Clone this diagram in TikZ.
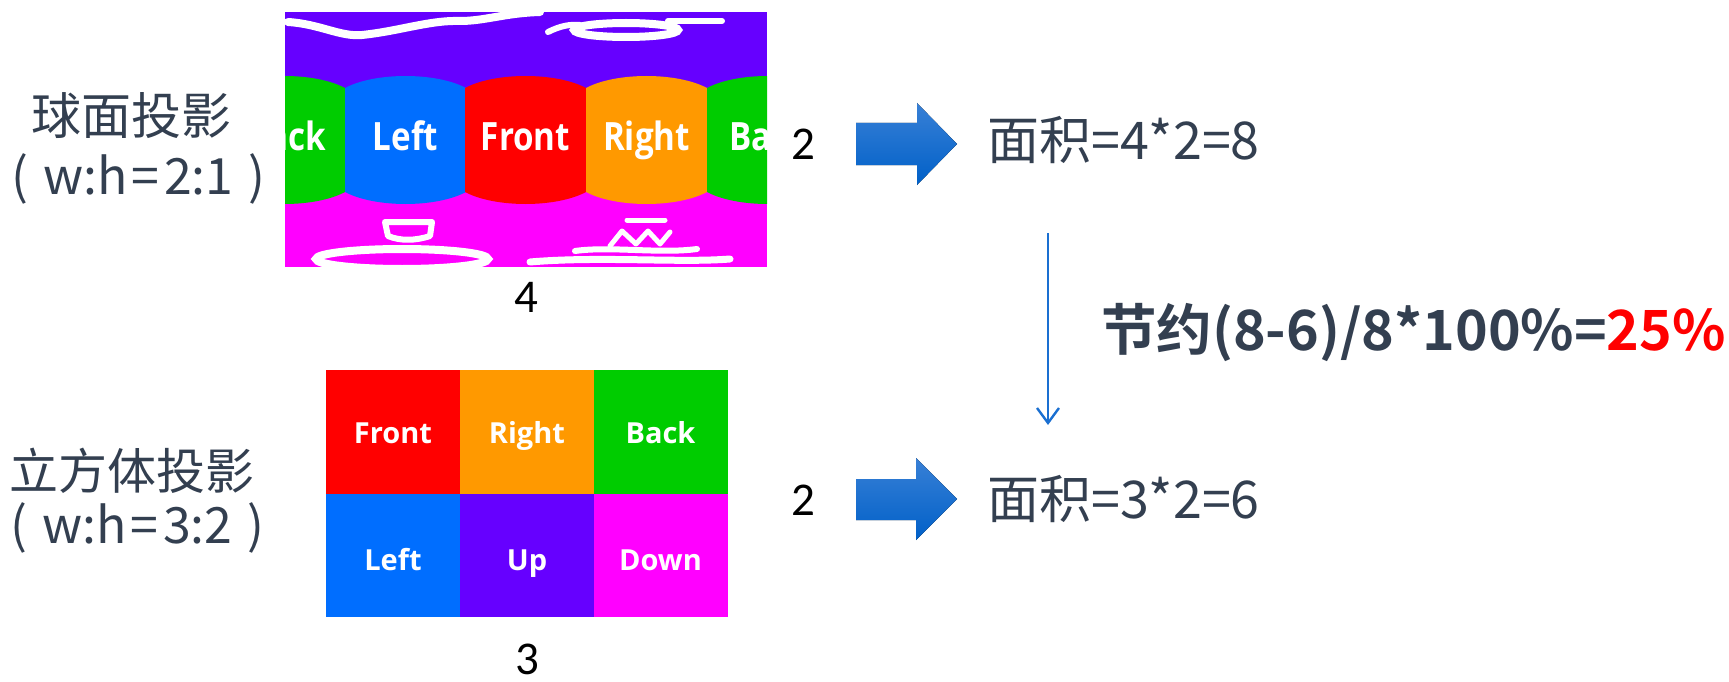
\documentclass[tikz,border=0pt]{standalone}
\usepackage{fontspec}
\setmainfont{Noto Sans CJK SC}[BoldFont=Noto Sans CJK SC Bold]
\newfontfamily\numfont{Carlito}
\newfontfamily\facefont{Open Sans}
\usetikzlibrary{arrows.meta}

\definecolor{txt}{RGB}{51,63,80}
\definecolor{fgreen}{RGB}{0,204,0}
\definecolor{fblue}{RGB}{0,110,255}
\definecolor{fred}{RGB}{255,0,0}
\definecolor{forange}{RGB}{255,153,0}
\definecolor{fpurple}{RGB}{102,0,255}
\definecolor{fmagenta}{RGB}{255,0,255}
\definecolor{arrtop}{RGB}{56,128,214}
\definecolor{arrbot}{RGB}{0,96,200}
\definecolor{thinblue}{RGB}{26,111,209}

\tikzset{
  lbl/.style={text=txt, inner sep=0pt, font=\fontsize{50}{60}\selectfont},
  num/.style={inner sep=0pt, font=\numfont\fontsize{47}{56}\selectfont},
  cell/.style={minimum width=134pt, minimum height=123.5pt, inner sep=0pt},
  celltxt/.style={text=white, inner sep=0pt, text height=20.7pt, text depth=0pt,
    font=\facefont\bfseries\fontsize{29}{34}\selectfont},
  facetxt/.style={text=white, inner sep=0pt, xscale=0.85, text height=27.8pt,
    text depth=0pt, font=\facefont\bfseries\fontsize{39}{46}\selectfont},
  bigarrow/.style={top color=arrtop, bottom color=arrbot},
  warp/.style={white, line cap=round, line join=round},
}

\begin{document}
\begin{tikzpicture}[x=1pt, y=-1pt]

    \useasboundingbox (0,0) rectangle (1729,682);

    % Spherical projection (equirectangular strip)
    \begin{scope}
    \clip (285,12) rectangle (767,267);
    \fill[fpurple] (285,12) rectangle (767,140);
    \fill[fmagenta] (285,140) rectangle (767,267);
    \foreach \x/\col in {224/fgreen, 345/fblue, 465/fred, 586/forange, 707/fgreen}
      \fill[\col] (\x,88) .. controls (\x+30,72) and (\x+91,72) .. (\x+121,88)
        -- (\x+121,192) .. controls (\x+91,208) and (\x+30,208) .. (\x,192) -- cycle;
    \node[facetxt, anchor=east] (sback1) at (326,137) {ack};
    \foreach \x/\name in {405.5/Left, 525.5/Front, 646.5/Right}
      \node[facetxt] (s\name) at (\x,137) {\name};
    \node[facetxt, anchor=west] (sback2) at (729,137) {Ba};
    % warped Up / Down lettering
    \draw[warp, line width=8pt] (288,22) .. controls (320,24) and (340,37) .. (362,35)
      .. controls (400,31) and (430,20) .. (460,21) .. controls (485,21) and (505,13) .. (540,12);
    \draw[white, line width=8pt] (626,30) ellipse (52pt and 7pt);
    \draw[warp, line width=6pt] (548,32) .. controls (560,26) and (570,24) .. (580,25);
    \draw[warp, line width=6pt] (668,21) -- (722,21);
    \draw[warp, line width=6pt] (385,222) -- (432,222) -- (430,236)
      .. controls (415,241) and (400,241) .. (388,236) -- cycle;
    \draw[white, line width=8pt] (402,259) ellipse (86pt and 10pt);
    \draw[warp, line width=5pt] (627,220) -- (665,220);
    \draw[warp, line width=5pt] (610,246) -- (622,231) -- (636,244) -- (648,231) -- (660,244) -- (670,232);
    \draw[warp, line width=6pt] (575,251) .. controls (610,246) and (660,254) .. (697,249);
    \draw[warp, line width=7pt] (530,262) .. controls (600,256) and (680,263) .. (730,259);
    \end{scope}

    % Cube projection (3x2 layout)
    \foreach \x/\y/\dy/\name/\col [count=\i] in {393/431.75/-1/Front/fred,
        527/431.75/-1/Right/forange, 660.5/431.75/-1/Back/fgreen,
        393/555.25/-5/Left/fblue, 527/555.25/-5/Up/fpurple, 660.5/555.25/-5/Down/fmagenta}{
      \node[cell, fill=\col] (c\i) at (\x,\y) {};
      \node[celltxt, yshift=\dy pt] (t\i) at (c\i.center) {\name};
    }

    % Labels on the left
    \node[lbl] (sphname) at (131,116) {球面投影};
    \node[lbl, anchor=west] (sphratio) at (11,179)
      {(\hspace{15pt}w:h\hspace{4.5pt}=\hspace{4.5pt}2:1\hspace{15pt})};
    \node[lbl, font=\fontsize{49}{58}\selectfont] (cubename) at (132,471) {立方体投影};
    \node[lbl, anchor=west] (cuberatio) at (10,528)
      {(\hspace{15pt}w:h\hspace{4.5pt}=\hspace{4.5pt}3:2\hspace{15pt})};

    % Side lengths
    \node[num] (sh) at (803,144) {2};
    \node[num] (sw) at (526,297) {4};
    \node[num] (ch) at (803,500) {2};
    \node[num] (cw) at (527,659) {3};

    % Block arrows and areas
    \fill[bigarrow] (856,123) -- (917,123) -- (917,103) -- (957,144) -- (917,185)
      -- (917,165) -- (856,165) -- cycle;
    \fill[bigarrow] (856,479) -- (916,479) -- (916,458) -- (957,499) -- (916,540)
      -- (916,520) -- (856,520) -- cycle;
    \node[lbl, anchor=base west, font=\fontsize{52}{60}\selectfont] (area1) at (987,160) {面积=4*2=8};
    \node[lbl, anchor=base west, font=\fontsize{52}{60}\selectfont] (area2) at (987,518) {面积=3*2=6};

    % Saving
    \coordinate (from) at (1048,233);
    \coordinate (to) at (1048,425);
    \draw[thinblue, line width=2.4pt, -{Straight Barb[length=15pt, width=22pt, line width=2.4pt]}] (from) -- (to);
    \node[lbl, anchor=base west, font=\bfseries\fontsize{55.5}{64}\selectfont] (saving) at (1101,350)
      {节约(8-6)/8*100\%=\textcolor{red}{25\%}};

\end{tikzpicture}
\end{document}
